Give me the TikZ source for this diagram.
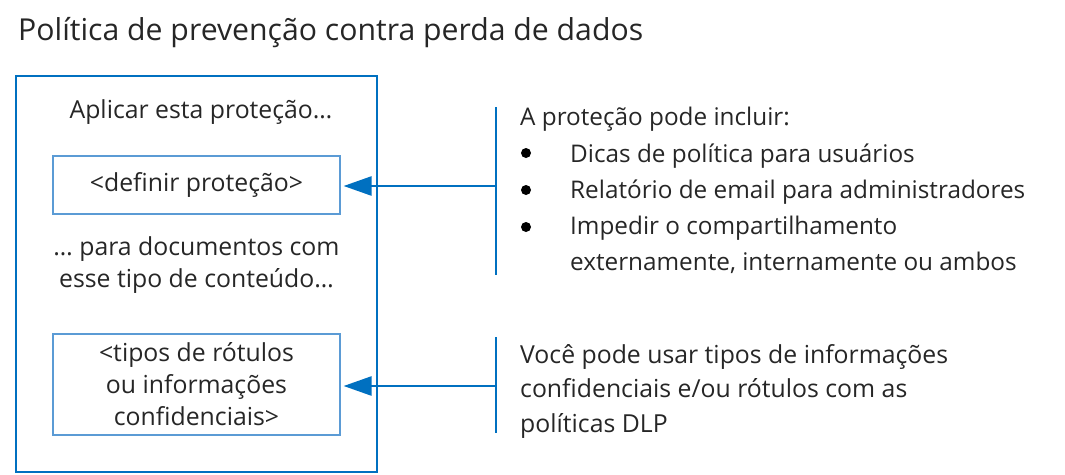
\documentclass[tikz,border=0pt]{standalone}
\usepackage{fontspec}
\setmainfont{Open Sans}
\usetikzlibrary{arrows.meta}
\definecolor{dblue}{HTML}{0070C0}
\definecolor{lblue}{HTML}{5B9BD5}
\definecolor{txt}{HTML}{262626}
\tikzset{
  body/.style={inner sep=0pt, text=txt, font=\fontsize{24.3}{36}\selectfont},
  outerbox/.style={draw=dblue, line width=2.6pt, minimum width=361pt, minimum height=396pt, inner sep=0pt},
  innerbox/.style={draw=lblue, line width=1.2pt, minimum width=287pt, inner sep=0pt, text=txt, align=center, font=\fontsize{24.8}{32}\selectfont},
  bar/.style={draw=dblue, line width=2.6pt},
  conn/.style={draw=dblue, line width=2.6pt, -{Triangle[length=28pt,width=19pt]}, shorten >=3pt},
  bulletdot/.style={circle, fill=black, inner sep=0pt, minimum size=10pt}
}
\begin{document}
\begin{tikzpicture}[x=1pt,y=-1pt]
\useasboundingbox (0,0) rectangle (1065,474);
\node[inner sep=0pt, text=txt, font=\fontsize{30.2}{34}\selectfont, anchor=base west] (title) at (18,40) {Política de prevenção contra perda de dados};
\node[outerbox] (outer) at (196.5,274) {};
\node[body, font=\fontsize{24.8}{32}\selectfont, anchor=base] (apply) at (201,118) {Aplicar esta proteção…};
\node[innerbox, minimum height=58pt] (def) at (196.5,185) {<definir proteção>};
\node[body, align=center, font=\fontsize{24.8}{32}\selectfont, anchor=base] (docs) at (196.5,287) {… para documentos com\\esse tipo de conteúdo…};
\node[innerbox, minimum height=101pt] (types) at (196.5,384.5) {<tipos de rótulos\\ou informações\\confidenciais>};
% right side
\coordinate (b1top) at (496,107);
\coordinate (b1bot) at (496,275);
\coordinate (b1mid) at (496,186);
\draw[bar] (b1top) -- (b1bot);
\coordinate (b2top) at (496,337);
\coordinate (b2bot) at (496,433);
\coordinate (b2mid) at (496,386);
\draw[bar] (b2top) -- (b2bot);
\draw[conn] (b1mid) -- (def.east |- b1mid);
\draw[conn] (b2mid) -- (types.east |- b2mid);
\node[body, anchor=base west] (inc) at (520,125) {A proteção pode incluir:};
\node[bulletdot] (d1) at (526,153) {};
\node[body, anchor=base west] (i1) at (570,162) {Dicas de política para usuários};
\node[bulletdot] (d2) at (526,190) {};
\node[body, anchor=base west] (i2) at (570,198) {Relatório de email para administradores};
\node[bulletdot] (d3) at (526,227) {};
\node[body, anchor=base west, align=left, font=\fontsize{24.3}{35.5}\selectfont] (i3) at (570,270) {Impedir o compartilhamento\\externamente, internamente ou ambos};
\node[body, anchor=base west, align=left, font=\fontsize{24.8}{34.5}\selectfont] (you) at (520,432) {Você pode usar tipos de informações\\confidenciais e/ou rótulos com as\\políticas DLP};
\end{tikzpicture}
\end{document}
